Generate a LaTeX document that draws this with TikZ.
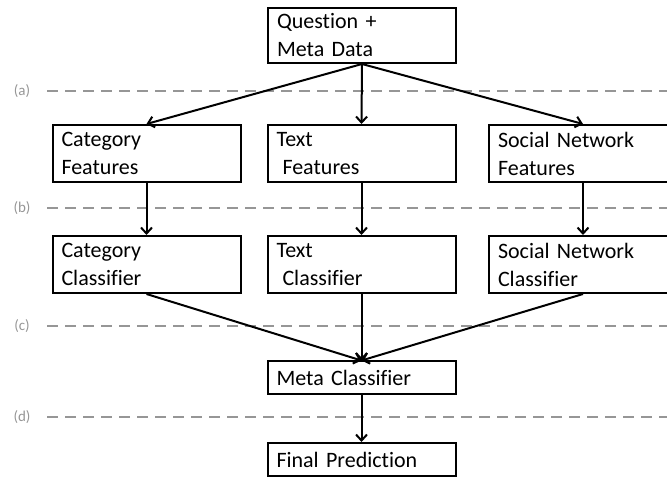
\documentclass[tikz,border=0pt]{standalone}
\usepackage{fontspec}
\setmainfont{Carlito}[Ligatures=NoCommon]
\usetikzlibrary{arrows.meta}
\definecolor{guidegray}{RGB}{150,150,150}
\begin{document}
\begin{tikzpicture}[x=1pt,y=-1pt,
    stage/.style={draw, line width=2pt, text width=170pt, inner xsep=9pt, inner ysep=0pt,
      minimum height=57pt, align=left, font=\fontsize{22}{28}\selectfont},
    slim/.style={stage, minimum height=33pt},
    flow/.style={-{Straight Barb[length=6pt,width=11pt]}, line width=2pt},
    guide/.style={guidegray, line width=2.5pt, dash pattern=on 11pt off 7pt},
    tag/.style={guidegray, font=\fontsize{15}{15}\selectfont}]
    \useasboundingbox (0,0) rectangle (667,478);

    % Stage separators (dashed, grey)
    \foreach \yy/\lbl in {91/a,208/b,326/c,417/d} {
        \node[tag] (tag\lbl) at (22,\yy) {(\lbl)};
        \draw[guide] (47,\yy) -- (667,\yy);
    }

    % Input
    \node[stage, minimum height=55pt] (input) at (362,35.5) {Question +\\Meta Data};

    % Feature extraction
    \node[stage] (catfeat)  at (146.5,153.5) {Category\\Features};
    \node[stage] (textfeat) at (361.5,153.5) {Text\\\hspace*{6pt}Features};
    \node[stage] (socfeat)  at (583,153.5)   {Social Network\\Features};

    % Base classifiers
    \node[stage] (catclf)  at (146.5,264.5) {Category\\Classifier};
    \node[stage] (textclf) at (361.5,264.5) {Text\\\hspace*{6pt}Classifier};
    \node[stage] (socclf)  at (583,264.5)   {Social Network\\Classifier};

    % Combination
    \node[slim] (meta)  at (361.5,378) {Meta Classifier};
    \node[slim] (final) at (361.5,459.5) {Final Prediction};

    % Connectors
    \draw[flow] (input.south) -- (catfeat.north);
    \draw[flow] (input.south) -- (textfeat.north);
    \draw[flow] (input.south) -- (socfeat.north);
    \draw[flow] (catfeat.south)  -- (catclf.north);
    \draw[flow] (textfeat.south) -- (textclf.north);
    \draw[flow] (socfeat.south)  -- (socclf.north);
    \draw[flow] (catclf.south)  -- (meta.north);
    \draw[flow] (textclf.south) -- (meta.north);
    \draw[flow] (socclf.south)  -- (meta.north);
    \draw[flow] (meta.south) -- (final.north);
\end{tikzpicture}
\end{document}
